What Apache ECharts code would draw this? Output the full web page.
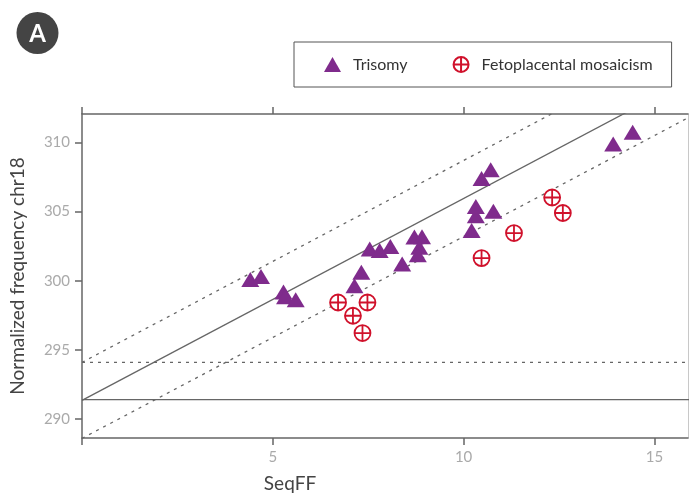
<!DOCTYPE html>
<html>
<head>
<meta charset="utf-8">
<script src="https://cdn.jsdelivr.net/npm/echarts@6/dist/echarts.min.js"></script>
<style>
html,body{margin:0;padding:0;background:#fff;}
#chart{width:689px;height:493px;}
</style>
</head>
<body>
<div id="chart"></div>
<script>
// ---- data ----
const xTickValues = [0, 5, 10, 15];
const xLabelValues = [5, 10, 15];
const yTickValues = [290, 295, 300, 305, 310];

const trisomySeqFF = [4.41, 4.69, 5.28, 5.32, 5.60, 7.32, 7.14, 7.54, 7.80, 8.08, 8.39, 8.71, 8.91, 8.84, 8.80, 10.21, 10.32, 10.32, 10.78, 10.47, 10.71, 13.92, 14.43];
const trisomyFreq  = [300.09, 300.31, 299.19, 298.84, 298.63, 300.61, 299.64, 302.30, 302.18, 302.47, 301.21, 303.16, 303.18, 302.42, 301.88, 303.64, 304.71, 305.37, 305.03, 307.39, 308.03, 309.89, 310.74];

const mosaicSeqFF = [6.71, 7.48, 7.10, 7.35, 10.47, 11.32, 12.32, 12.60];
const mosaicFreq  = [298.43, 298.43, 297.47, 296.22, 301.64, 303.45, 306.02, 304.90];

// regression line and prediction band endpoints (x = 0 and x = 16)
const lineX = [0, 16];
const fitY = [291.35, 314.71];
const upperY = [294.1, 317.46];
const lowerY = [288.6, 311.96];
const medianLevel = [291.4, 291.4];
const cutoffLevel = [294.1, 294.1];

const seriesNames = ['Trisomy', 'Fetoplacental mosaicism'];

// ---- build ----
const pair = (xs, ys) => xs.map((x, i) => [x, ys[i]]);
const FONT = 'Lato';
const axisColor = '#666';
const lineColor = '#666';
const purple = '#7f2b8c';
const red = '#d0112b';
const plusCircle = 'path://M0,10 A10,10 0 1,1 20,10 A10,10 0 1,1 0,10 Z M10,0 L10,20 M0,10 L20,10';

function refLine(name, ys, dashed) {
  return {
    name: name, type: 'line', data: pair(lineX, ys), symbol: 'none',
    silent: true, clip: true, z: 1,
    lineStyle: { color: lineColor, width: 1.3, type: dashed ? [3, 5] : 'solid' }
  };
}

const chart = echarts.init(document.getElementById('chart'));
chart.setOption({
  animation: false,
  backgroundColor: '#fff',
  textStyle: { fontFamily: FONT },
  grid: { left: 79, right: 1, top: 114, bottom: 55 },
  legend: {
    data: seriesNames,
    left: 294, top: 42,
    padding: [14, 19, 14, 30],
    itemGap: 45,
    itemWidth: 17, itemHeight: 15,
    borderColor: '#555', borderWidth: 1,
    textStyle: { fontSize: 16, color: '#333', fontFamily: FONT, padding: [0, 0, 0, 7] }
  },
  xAxis: [
    {
      type: 'value', position: 'bottom', min: 0, max: 15.88,
      axisLine: { show: true, onZero: false, lineStyle: { color: axisColor, width: 1.5 } },
      axisTick: { show: true, length: 7, customValues: xTickValues, lineStyle: { color: axisColor, width: 1.5 } },
      axisLabel: { customValues: xLabelValues, color: '#aaa', fontSize: 15, margin: 12, fontFamily: FONT },
      splitLine: { show: false }
    },
    {
      type: 'value', position: 'top', min: 0, max: 15.88,
      axisLine: { show: true, onZero: false, lineStyle: { color: axisColor, width: 1.5 } },
      axisTick: { show: true, length: 7, customValues: xTickValues, lineStyle: { color: axisColor, width: 1.5 } },
      axisLabel: { show: false },
      splitLine: { show: false }
    }
  ],
  yAxis: [
    {
      type: 'value', position: 'left', min: 288.63, max: 312.06,
      name: 'Normalized frequency chr18', nameLocation: 'middle', nameGap: 55,
      nameTextStyle: { fontSize: 19, color: '#444', fontFamily: FONT },
      axisLine: { show: true, onZero: false, lineStyle: { color: axisColor, width: 1.5 } },
      axisTick: { show: true, length: 7, customValues: yTickValues, lineStyle: { color: axisColor, width: 1.5 } },
      axisLabel: { customValues: yTickValues, color: '#aaa', fontSize: 15, margin: 12, fontFamily: FONT },
      splitLine: { show: false }
    },
    {
      type: 'value', position: 'right', min: 288.63, max: 312.06,
      axisLine: { show: true, onZero: false, lineStyle: { color: '#c8c8c8', width: 1 } },
      axisTick: { show: false },
      axisLabel: { show: false },
      splitLine: { show: false }
    }
  ],
  series: [
    refLine('fit', fitY, false),
    refLine('upper', upperY, true),
    refLine('lower', lowerY, true),
    refLine('median', medianLevel, false),
    refLine('cutoff', cutoffLevel, true),
    {
      name: seriesNames[1], type: 'scatter', data: pair(mosaicSeqFF, mosaicFreq),
      symbol: plusCircle, symbolSize: 16, z: 3,
      itemStyle: { color: '#fff', borderColor: red, borderWidth: 1.8, opacity: 1 }
    },
    {
      name: seriesNames[0], type: 'scatter', data: pair(trisomySeqFF, trisomyFreq),
      symbol: 'triangle', symbolSize: [18, 15], z: 4,
      itemStyle: { color: purple, opacity: 1 }
    }
  ],
  graphic: [
    { type: 'circle', shape: { cx: 37.5, cy: 33, r: 21 }, style: { fill: '#444' } },
    { type: 'text', x: 37.5, y: 34, style: { text: 'A', fill: '#fff', font: 'bold 24px ' + FONT, align: 'center', verticalAlign: 'middle' } },
    { type: 'text', x: 290, y: 484, style: { text: 'SeqFF', fill: '#444', font: '19px ' + FONT, align: 'center', verticalAlign: 'middle' } }
  ]
});
</script>
</body>
</html>
